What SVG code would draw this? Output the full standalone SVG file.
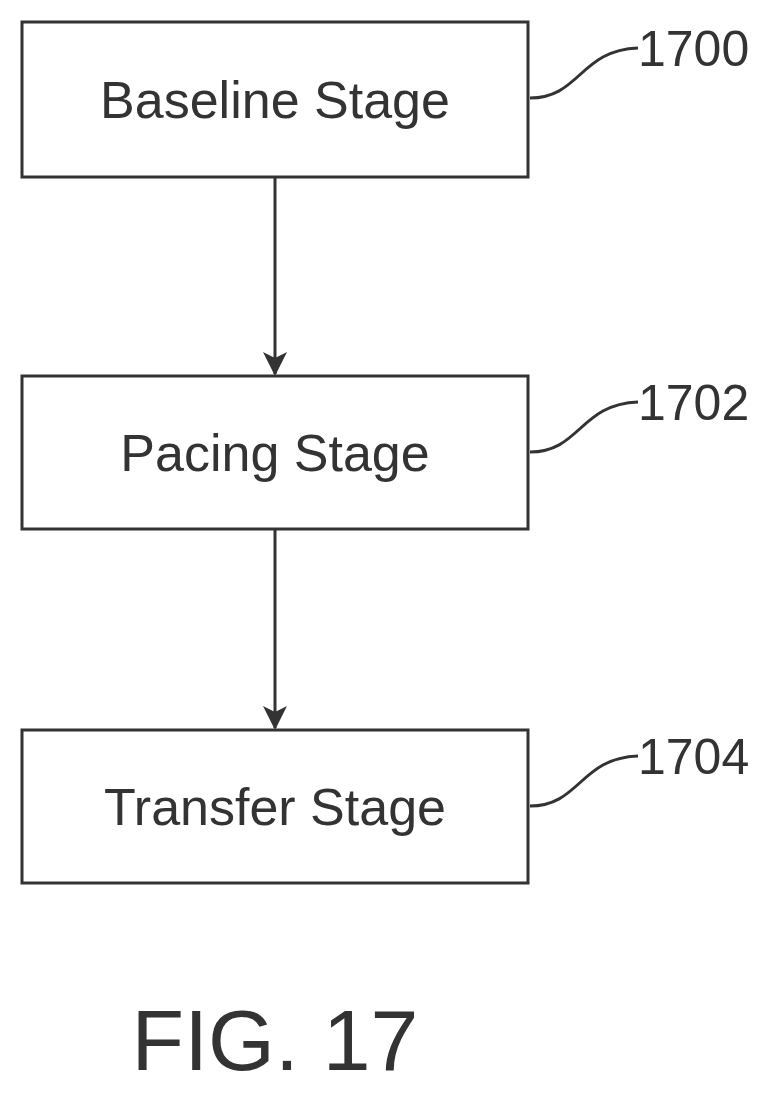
<svg xmlns="http://www.w3.org/2000/svg" width="774" height="1093" viewBox="0 0 774 1093">
<style>
.box{fill:#fff;stroke:#333;stroke-width:3}
.t{font-family:"Liberation Sans",Arial,sans-serif;font-size:52px;fill:#333;text-anchor:middle}
.r{font-family:"Liberation Sans",Arial,sans-serif;font-size:50px;fill:#333}
.l{fill:none;stroke:#333;stroke-width:3}
</style>
<defs>
<marker id="b" viewBox="0 0 24 24" refX="22" refY="12" markerWidth="24" markerHeight="24" orient="auto" markerUnits="userSpaceOnUse"><path d="M0,0 L24,12 L0,24 L6,12 Z" fill="#333"/></marker></defs>
<g id="n1700"><rect class="box" x="22" y="22" width="506" height="155"/><text class="t" x="275" y="118">Baseline Stage</text></g>
<g id="n1702"><rect class="box" x="22" y="376" width="506" height="153"/><text class="t" x="275" y="471">Pacing Stage</text></g>
<g id="n1704"><rect class="box" x="22" y="730" width="506" height="153"/><text class="t" x="275" y="825">Transfer Stage</text></g>
<g id="connectors">
<line class="l" x1="275" y1="177" x2="275" y2="374" marker-end="url(#b)"/>
<line class="l" x1="275" y1="529" x2="275" y2="728" marker-end="url(#b)"/>
<path class="l" d="M530,98 C580,98 580,50 638,48"/>
<path class="l" d="M530,452 C580,452 580,404 638,402"/>
<path class="l" d="M530,806 C580,806 580,758 638,756"/>
</g>
<text class="r" x="638" y="66">1700</text>
<text class="r" x="638" y="420">1702</text>
<text class="r" x="638" y="774">1704</text>
<text class="t" x="275" y="1070" style="font-size:86px">FIG. 17</text>
</svg>
